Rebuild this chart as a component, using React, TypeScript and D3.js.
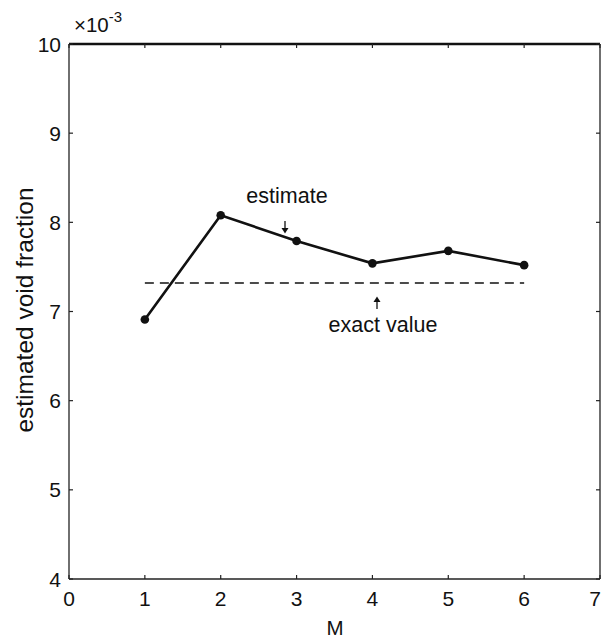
import React from "react";
import * as d3 from "d3";

const mValues = [1, 2, 3, 4, 5, 6];
const estimates = [6.91, 8.08, 7.79, 7.54, 7.68, 7.52];
const exactValue = 7.32;
const xTicks = [0, 1, 2, 3, 4, 5, 6, 7];
const yTicks = [4, 5, 6, 7, 8, 9, 10];

const W = 602;
const H = 639;
const L = 69, R = 600, T = 44, B = 579;
const FONT = "Liberation Sans, Arial, Helvetica, sans-serif";

export default function App() {
  const x = d3.scaleLinear().domain([0, 7]).range([L, R]);
  const y = d3.scaleLinear().domain([4, 10]).range([B, T]);
  const line = d3
    .line<number>()
    .x((_, i) => x(mValues[i]))
    .y((d) => y(d));
  const tickLen = 4;
  return (
    <svg
      width={W}
      height={H}
      style={{ position: "absolute", left: 0, top: 0, background: "#fff" }}
      fontFamily={FONT}
    >
      <rect x={0} y={0} width={W} height={H} fill="#fff" />
      {/* frame */}
      <line x1={L} x2={R} y1={B} y2={B} stroke="#222" strokeWidth={1.3} />
      <line x1={L} x2={L} y1={T} y2={B} stroke="#222" strokeWidth={1.3} />
      <line x1={R} x2={R} y1={T} y2={B} stroke="#222" strokeWidth={1.3} />
      <line x1={L} x2={R} y1={T} y2={T} stroke="#111" strokeWidth={2.6} />
      {/* x ticks */}
      {xTicks.map((t) => (
        <g key={"x" + t}>
          <line x1={x(t)} x2={x(t)} y1={B} y2={B - tickLen} stroke="#222" strokeWidth={1.2} />
          <line x1={x(t)} x2={x(t)} y1={T} y2={T + tickLen} stroke="#222" strokeWidth={1.2} />
          <text
            x={Math.min(x(t), W - 7)}
            y={606}
            textAnchor="middle"
            fontSize={21}
            fill="#111"
          >
            {t}
          </text>
        </g>
      ))}
      {/* y ticks */}
      {yTicks.map((t) => (
        <g key={"y" + t}>
          <line x1={L} x2={L + tickLen} y1={y(t)} y2={y(t)} stroke="#222" strokeWidth={1.2} />
          <line x1={R} x2={R - tickLen} y1={y(t)} y2={y(t)} stroke="#222" strokeWidth={1.2} />
          <text x={61} y={y(t) + 7.5} textAnchor="end" fontSize={21} fill="#111">
            {t}
          </text>
        </g>
      ))}
      {/* exponent */}
      <text x={74} y={32} fontSize={20.5} fill="#111">
        ×10
        <tspan dy={-10} fontSize={15}>-3</tspan>
      </text>
      {/* axis labels */}
      <text x={335} y={635} textAnchor="middle" fontSize={20.5} fill="#111">
        M
      </text>
      <text
        transform={`translate(33, 310) rotate(-90)`}
        textAnchor="middle"
        fontSize={24.5}
        fill="#111"
      >
        estimated void fraction
      </text>
      {/* exact value dashed */}
      <line
        x1={x(1)}
        x2={x(6)}
        y1={y(exactValue)}
        y2={y(exactValue)}
        stroke="#111"
        strokeWidth={1.6}
        strokeDasharray="9,6"
      />
      {/* estimate line */}
      <path d={line(estimates) || ""} fill="none" stroke="#111" strokeWidth={2.6} />
      {estimates.map((v, i) => (
        <circle key={i} cx={x(mValues[i])} cy={y(v)} r={4.3} fill="#111" />
      ))}
      {/* annotations */}
      <text x={287} y={203} textAnchor="middle" fontSize={21.5} fill="#111">
        estimate
      </text>
      <g stroke="#111" strokeWidth={1.3} fill="#111">
        <line x1={285} x2={285} y1={221} y2={232} />
        <path d="M281.5,228 L285,233.5 L288.5,228 Z" stroke="none" />
        <line x1={377} x2={377} y1={298} y2={309} />
        <path d="M373.5,302 L377,296.5 L380.5,302 Z" stroke="none" />
      </g>
      <text x={383} y={332} textAnchor="middle" fontSize={21.5} fill="#111">
        exact value
      </text>
    </svg>
  );
}
